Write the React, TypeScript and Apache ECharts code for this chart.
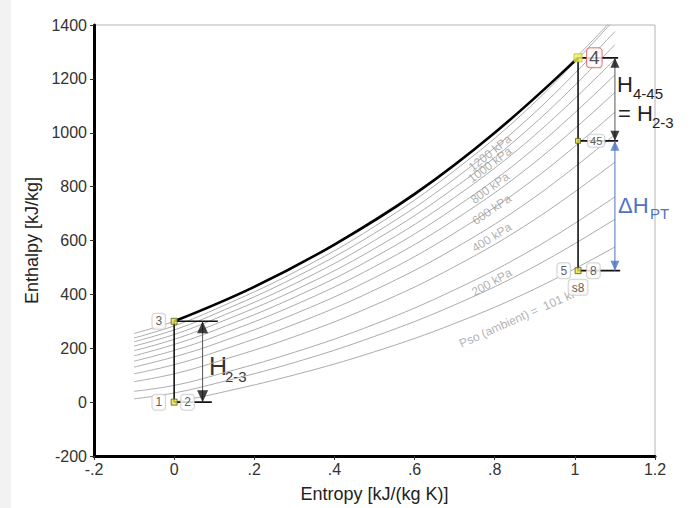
import React, { useEffect, useRef } from 'react';
import * as echarts from 'echarts';

// ---------- data ----------
const entropyGrid = [-0.1, 0, 0.1, 0.3, 0.5, 0.7, 0.9, 1.1];
const isobarPressures = ['1200', '1100', '1000', '900', '800', '700', '600', '500', '400', '300', '200', '150', '101'];
const isobarEnthalpy: (number | null)[][] = [
  [255, 300, 362, 505, 680, 885, 1130, 1430],
  [238, 283, 343, 482, 652, 860, 1113, 1422],
  [224, 268, 326, 462, 627, 829, 1075, 1376],
  [208, 251, 308, 439, 600, 796, 1035, 1327],
  [191, 233, 288, 415, 570, 760, 991, 1273],
  [172, 214, 266, 389, 538, 721, 943, 1215],
  [152, 192, 242, 360, 503, 677, 890, 1150],
  [130, 168, 215, 327, 462, 628, 830, 1077],
  [105, 139, 184, 289, 416, 571, 761, 993],
  [76, 105, 147, 243, 360, 503, 678, 891],
  [40, 62, 99, 185, 289, 417, 572, 762],
  [12, 34, 68, 147, 244, 361, 504, 679],
  [null, 0, 30, 101, 187, 292, 420, 576],
];

const isobarLabelText = ['1200 kPa', '1000 kPa', '800 kPa', '600 kPa', '400 kPa', '200 kPa', 'Pso (ambient) =  101 kPa'];
const isobarLabelEntropy = [0.788, 0.788, 0.788, 0.7925, 0.7925, 0.7925, 0.868];
const isobarLabelEnthalpy = [925, 881, 795, 715, 611, 445, 318];
const isobarLabelAngle = [38, 37, 36, 34, 32, 29, 24];

// combustion path 3 -> 4
const pathEntropy = [0, 0.2, 0.4, 0.6, 0.8, 1.008];
const pathEnthalpy = [300, 428, 585, 772, 1000, 1278];

// state points
const stateNames = ['1', '2', '3', '4', '45', '5', '8', 's8'];
const stateEntropy = [0, 0, 0, 1.008, 1.008, 1.008, 1.008, 1.008];
const stateEnthalpy = [0, 0, 300, 1278, 970, 488, 488, 488];

const xTicks = ['-.2', '0', '.2', '.4', '.6', '.8', '1', '1.2'];

// ---------- helpers ----------
const FONT = '"Liberation Sans", Arial, Helvetica, sans-serif';
const st = (name: string): [number, number] => {
  const i = stateNames.indexOf(name);
  return [stateEntropy[i], stateEnthalpy[i]];
};

const lineSeries = (data: number[][], color: string, width: number, z = 3) => ({
  type: 'line',
  data,
  symbol: 'none',
  showSymbol: false,
  silent: true,
  lineStyle: { color, width },
  z,
});

export default function App() {
  const ref = useRef<HTMLDivElement>(null);

  useEffect(() => {
    const chart = echarts.init(ref.current!, null, { renderer: 'svg' });

    const isobars = isobarEnthalpy.map((vals, i) => ({
      type: 'line',
      name: isobarPressures[i] + ' kPa',
      data: entropyGrid
        .map((s, j) => [s, vals[j]])
        .filter((d) => d[1] !== null),
      smooth: 0.4,
      symbol: 'none',
      showSymbol: false,
      silent: true,
      lineStyle: { color: '#ababab', width: 1 },
      z: 1,
    }));

    const leftArrowS = 0.071;
    const rightArrowS = 1.1;
    const [s1, h1] = st('1');
    const [s3, h3] = st('3');
    const [s4, h4] = st('4');
    const [s45, h45] = st('45');
    const [s8, h8] = st('8');

    const arrowHead = (s: number, h: number, up: boolean, color: string, w: number, ht: number) => ({
      value: [s, h],
      symbolRotate: up ? 0 : 180,
      symbolSize: [w, ht],
      symbolOffset: [0, up ? ht / 2 : -ht / 2],
      itemStyle: { color },
    });

    const BLUE = '#4f72c4';

    const labelItem = (name: string, position: string, distance: number, extra: any = {}) => ({
      value: st(name === 'lbl5' ? '5' : name),
      name: name === 'lbl5' ? '5' : name,
      label: { position, distance, ...extra },
    });

    const option: any = {
      animation: false,
      backgroundColor: '#ffffff',
      textStyle: { fontFamily: FONT },
      grid: {
        left: 94,
        right: 36,
        top: 25,
        bottom: 50,
        show: true,
        borderColor: '#b4b4b4',
        borderWidth: 1,
        backgroundColor: 'transparent',
      },
      xAxis: {
        type: 'value',
        min: -0.2,
        max: 1.2,
        interval: 0.2,
        name: 'Entropy [kJ/(kg K)]',
        nameLocation: 'middle',
        nameGap: 29,
        nameTextStyle: { fontSize: 18, color: '#222', fontFamily: FONT },
        axisLine: { onZero: false, lineStyle: { color: '#000', width: 3 } },
        axisTick: { show: true, length: 4, lineStyle: { color: '#333', width: 1 } },
        axisLabel: {
          fontSize: 16,
          color: '#333',
          margin: 5,
          fontFamily: FONT,
          formatter: (v: number) => xTicks[Math.round((v + 0.2) / 0.2)] ?? '',
        },
        splitLine: { show: false },
      },
      yAxis: {
        type: 'value',
        min: -200,
        max: 1400,
        interval: 200,
        name: 'Enthalpy [kJ/kg]',
        nameLocation: 'middle',
        nameGap: 51,
        nameTextStyle: { fontSize: 18, color: '#222', fontFamily: FONT },
        axisLine: { onZero: false, lineStyle: { color: '#000', width: 3 } },
        axisTick: { show: true, length: 4, lineStyle: { color: '#333', width: 1 } },
        axisLabel: {
          fontSize: 16,
          color: '#333',
          margin: 7,
          fontFamily: FONT,
          formatter: (v: number) => String(Math.round(v)),
        },
        splitLine: { show: false },
      },
      series: [
        ...isobars,
        // isobar labels
        {
          type: 'scatter',
          silent: true,
          symbolSize: 0,
          itemStyle: { color: 'transparent' },
          z: 2,
          label: {
            show: true,
            position: 'inside',
            formatter: '{b}',
            color: '#9c9c9c',
            fontSize: 12,
            fontFamily: FONT,
          },
          data: isobarLabelText.map((t, i) => ({
            name: t,
            value: [isobarLabelEntropy[i], isobarLabelEnthalpy[i]],
            label: { rotate: isobarLabelAngle[i] },
          })),
        },
        // combustion path 3 -> 4
        {
          type: 'line',
          data: pathEntropy.map((s, i) => [s, pathEnthalpy[i]]),
          smooth: 0.4,
          symbol: 'none',
          silent: true,
          lineStyle: { color: '#000', width: 2.6 },
          z: 4,
        },
        // vertical process lines
        lineSeries([[s1, h1], [s3, h3]], '#111', 1.6),
        lineSeries([[s4, h4], [s8, h8]], '#111', 1.6),
        // horizontal reference ticks
        lineSeries([[s3, h3], [0.109, h3]], '#111', 1.6),
        lineSeries([[s1, h1], [0.094, h1]], '#111', 1.6),
        lineSeries([[s4, h4], [1.108, h4]], '#111', 1.6),
        lineSeries([[s45, h45], [1.108, h45]], '#111', 1.6),
        lineSeries([[s8, h8], [1.113, h8]], '#111', 1.6),
        // arrow shafts
        lineSeries([[leftArrowS, h3], [leftArrowS, h1]], '#555', 1),
        lineSeries([[rightArrowS, h4], [rightArrowS, h45]], '#555', 1),
        lineSeries([[rightArrowS, h45], [rightArrowS, h8]], BLUE, 1),
        // arrow heads
        {
          type: 'scatter',
          symbol: 'triangle',
          silent: true,
          z: 6,
          data: [
            arrowHead(leftArrowS, h3, true, '#111', 11, 12),
            arrowHead(leftArrowS, h1, false, '#111', 11, 12),
            arrowHead(rightArrowS, h4, true, '#111', 9, 10),
            arrowHead(rightArrowS, h45, false, '#111', 9, 10),
            arrowHead(rightArrowS, h45, true, BLUE, 9, 10),
            arrowHead(rightArrowS, h8, false, BLUE, 9, 10),
          ],
        },
        // state markers
        {
          type: 'scatter',
          symbol: 'rect',
          silent: true,
          z: 7,
          symbolSize: 6,
          itemStyle: { color: '#e4e44c', borderColor: '#5c5c10', borderWidth: 1 },
          data: [
            { value: st('1') },
            { value: st('3') },
            { value: st('45'), symbolSize: 5 },
            { value: st('8') },
            { value: st('4'), symbolSize: 8, itemStyle: { color: '#f4f45c', borderColor: '#b8b840' } },
          ],
        },
        // state labels
        {
          type: 'scatter',
          silent: true,
          symbolSize: 0,
          itemStyle: { color: 'transparent' },
          z: 8,
          label: {
            show: true,
            formatter: '{b}',
            color: '#333',
            fontSize: 12,
            fontFamily: FONT,
            backgroundColor: '#fff',
            borderColor: '#c8c8c8',
            borderWidth: 1,
            borderRadius: 3,
            padding: [2, 3, 1, 3],
          },
          data: [
            labelItem('1', 'left', 9),
            labelItem('2', 'right', 7),
            labelItem('3', 'left', 9),
            labelItem('4', 'right', 9, { fontSize: 19, borderColor: '#e05a5a', padding: [0, 2, 0, 2], color: '#222' }),
            labelItem('45', 'right', 10, { fontSize: 11, padding: [1, 2, 0, 2] }),
            labelItem('lbl5', 'left', 8),
            labelItem('8', 'right', 9),
            labelItem('s8', 'bottom', 9),
          ],
        },
      ],
      graphic: [
        { type: 'rect', z: -10, shape: { x: 0, y: 0, width: 11, height: 508 }, style: { fill: '#f2f2f2' }, silent: true },
        { type: 'text', x: 209, y: 366, style: { text: 'H', fontSize: 25, fill: '#333', fontFamily: FONT, verticalAlign: 'middle' } },
        { type: 'text', x: 225, y: 376, style: { text: '2-3', fontSize: 15, fill: '#333', fontFamily: FONT, verticalAlign: 'middle' } },
        { type: 'text', x: 617, y: 84, style: { text: 'H', fontSize: 22, fill: '#222', fontFamily: FONT, verticalAlign: 'middle' } },
        { type: 'text', x: 633, y: 93, style: { text: '4-45', fontSize: 15, fill: '#222', fontFamily: FONT, verticalAlign: 'middle' } },
        { type: 'text', x: 618, y: 113, style: { text: '=', fontSize: 22, fill: '#222', fontFamily: FONT, verticalAlign: 'middle' } },
        { type: 'text', x: 637, y: 113, style: { text: 'H', fontSize: 22, fill: '#222', fontFamily: FONT, verticalAlign: 'middle' } },
        { type: 'text', x: 652, y: 122, style: { text: '2-3', fontSize: 15, fill: '#222', fontFamily: FONT, verticalAlign: 'middle' } },
        { type: 'text', x: 618, y: 205, style: { text: 'ΔH', fontSize: 22, fill: BLUE, fontFamily: FONT, verticalAlign: 'middle' } },
        { type: 'text', x: 650, y: 213, style: { text: 'PT', fontSize: 15, fill: BLUE, fontFamily: FONT, verticalAlign: 'middle' } },
      ],
    };

    chart.setOption(option);
    return () => chart.dispose();
  }, []);

  return (
    <div
      ref={ref}
      style={{ position: 'fixed', left: 0, top: 0, width: 691, height: 508, background: '#fff' }}
    />
  );
}
